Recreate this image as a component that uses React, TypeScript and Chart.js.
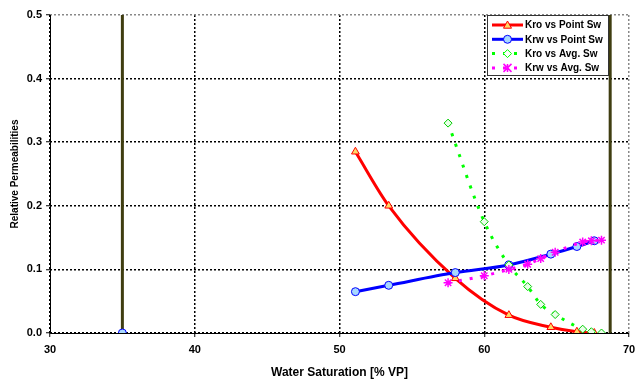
import React, { useEffect, useRef } from "react";
import Chart from "chart.js/auto";

// Kro vs Point Sw
const kroPointSw = [51.1, 53.4, 58.0, 61.7, 64.6, 66.4, 67.6];
const kroPointVal = [0.285, 0.2, 0.086, 0.028, 0.009, 0.002, 0.0];
// Krw vs Point Sw
const krwPointSw = [51.1, 53.4, 58.0, 61.7, 64.6, 66.4, 67.6];
const krwPointVal = [0.065, 0.075, 0.095, 0.107, 0.124, 0.136, 0.145];
// Averaged Sw
const avgSw = [57.5, 60.0, 61.7, 63.0, 63.9, 64.9, 66.8, 67.4, 68.1];
const kroAvgVal = [0.33, 0.175, 0.107, 0.073, 0.045, 0.029, 0.006, 0.002, 0.0];
const krwAvgVal = [0.079, 0.09, 0.1, 0.108, 0.117, 0.127, 0.143, 0.145, 0.146];
// Sw limits (vertical lines) and isolated marker
const swLimits = [35, 68.7];
const limitRange = [0, 0.5];
const markerSw = [35];
const markerVal = [0];

const legendLabels = ["Kro vs Point Sw", "Krw vs Point Sw", "Kro vs Avg. Sw", "Krw vs Avg. Sw"];
const xTicks = [30, 40, 50, 60, 70];

const pts = (xs: number[], ys: number[]) => xs.map((x, i) => ({ x, y: ys[i] }));

const FONT = "'Liberation Sans', Arial, sans-serif";

function drawMarker(ctx: CanvasRenderingContext2D, kind: string, x: number, y: number, r: number, stroke: string, fill: string) {
  ctx.save();
  ctx.lineWidth = 1;
  ctx.strokeStyle = stroke;
  ctx.fillStyle = fill;
  ctx.setLineDash([]);
  ctx.beginPath();
  if (kind === "triangle") {
    ctx.moveTo(x, y - r);
    ctx.lineTo(x + r, y + r * 0.8);
    ctx.lineTo(x - r, y + r * 0.8);
    ctx.closePath();
    ctx.fill();
    ctx.stroke();
  } else if (kind === "circle") {
    ctx.arc(x, y, r, 0, Math.PI * 2);
    ctx.fill();
    ctx.stroke();
  } else if (kind === "rectRot") {
    ctx.moveTo(x, y - r);
    ctx.lineTo(x + r, y);
    ctx.lineTo(x, y + r);
    ctx.lineTo(x - r, y);
    ctx.closePath();
    ctx.fill();
    ctx.stroke();
  } else {
    ctx.lineWidth = 1.5;
    ctx.moveTo(x - r, y - r);
    ctx.lineTo(x + r, y + r);
    ctx.moveTo(x + r, y - r);
    ctx.lineTo(x - r, y + r);
    ctx.moveTo(x, y - r);
    ctx.lineTo(x, y + r);
    ctx.stroke();
  }
  ctx.restore();
}

const axesPlugin = {
  id: "solidAxes",
  beforeDatasetsDraw(chart: any) {
    const ctx = chart.ctx as CanvasRenderingContext2D;
    const a = chart.chartArea;
    ctx.save();
    ctx.strokeStyle = "#000";
    ctx.lineWidth = 1;
    ctx.setLineDash([]);
    ctx.beginPath();
    ctx.moveTo(Math.round(a.left) + 0.5, a.top);
    ctx.lineTo(Math.round(a.left) + 0.5, Math.round(a.bottom) + 0.5);
    ctx.lineTo(a.right, Math.round(a.bottom) + 0.5);
    ctx.stroke();
    ctx.restore();
  },
};

const legendPlugin = {
  id: "customLegend",
  afterDraw(chart: any) {
    const ctx = chart.ctx as CanvasRenderingContext2D;
    const bx = 487, by = 15, bw = 121, bh = 60;
    ctx.save();
    ctx.fillStyle = "#ffffff";
    ctx.fillRect(bx, by, bw, bh);
    ctx.strokeStyle = "#333333";
    ctx.lineWidth = 1;
    ctx.strokeRect(bx + 0.5, by + 0.5, bw, bh);
    const styles = [
      { color: "#ff0000", dash: [] as number[], marker: "triangle", fill: "#ffd966" },
      { color: "#0000ff", dash: [] as number[], marker: "circle", fill: "#a8d8ff" },
      { color: "#00ff00", dash: [3, 8] as number[], marker: "rectRot", fill: "#ffffff" },
      { color: "#ff00ff", dash: [3, 8] as number[], marker: "star", fill: "#ff00ff" },
    ];
    legendLabels.forEach((lbl, i) => {
      const y = 25 + i * 14.3;
      const s = styles[i];
      ctx.save();
      ctx.strokeStyle = s.color;
      ctx.lineWidth = 3;
      ctx.setLineDash(s.dash);
      ctx.beginPath();
      ctx.moveTo(492, y);
      ctx.lineTo(523, y);
      ctx.stroke();
      ctx.restore();
      drawMarker(ctx, s.marker, 507.5, y, 4, s.color, s.fill);
      ctx.fillStyle = "#000";
      ctx.font = `bold 10px ${FONT}`;
      ctx.textBaseline = "middle";
      ctx.textAlign = "left";
      ctx.fillText(lbl, 525, y + 0.5);
    });
    ctx.restore();
  },
};

export default function App() {
  const ref = useRef<HTMLCanvasElement | null>(null);
  useEffect(() => {
    if (!ref.current) return;
    const chart = new Chart(ref.current, {
      type: "scatter",
      data: {
        datasets: [
          {
            label: "limit1",
            data: pts([swLimits[0], swLimits[0]], limitRange),
            showLine: true,
            borderColor: "#3f3d10",
            borderWidth: 3,
            pointRadius: 0,
            order: 9,
          },
          {
            label: "limit2",
            data: pts([swLimits[1], swLimits[1]], limitRange),
            showLine: true,
            borderColor: "#3f3d10",
            borderWidth: 3,
            pointRadius: 0,
            order: 9,
          },
          {
            label: legendLabels[0],
            data: pts(kroPointSw, kroPointVal),
            showLine: true,
            borderColor: "#ff0000",
            borderWidth: 3,
            tension: 0.4,
            cubicInterpolationMode: "monotone",
            pointStyle: "triangle",
            pointRadius: 4.5,
            pointBorderWidth: 1,
            pointBorderColor: "#ff0000",
            pointBackgroundColor: "#ffd966",
            order: 4,
          },
          {
            label: legendLabels[1],
            data: pts(krwPointSw, krwPointVal),
            showLine: true,
            borderColor: "#0000ff",
            borderWidth: 3,
            tension: 0.4,
            cubicInterpolationMode: "monotone",
            pointStyle: "circle",
            pointRadius: 4,
            pointBorderWidth: 1,
            pointBorderColor: "#0000ff",
            pointBackgroundColor: "#a8d8ff",
            order: 3,
          },
          {
            label: "marker",
            data: pts(markerSw, markerVal),
            showLine: false,
            pointStyle: "circle",
            pointRadius: 4,
            pointBorderWidth: 1,
            pointBorderColor: "#0000ff",
            pointBackgroundColor: "#a8d8ff",
            order: 3,
          },
          {
            label: legendLabels[2],
            data: pts(avgSw, kroAvgVal),
            showLine: true,
            borderColor: "#00ff00",
            borderWidth: 3,
            borderDash: [3, 8],
            tension: 0.4,
            cubicInterpolationMode: "monotone",
            pointStyle: "rectRot",
            pointRadius: 4,
            pointBorderWidth: 1,
            pointBorderColor: "#00cc00",
            pointBackgroundColor: "#e8ffe8",
            order: 2,
          },
          {
            label: legendLabels[3],
            data: pts(avgSw, krwAvgVal),
            showLine: true,
            borderColor: "#ff00ff",
            borderWidth: 3,
            borderDash: [3, 8],
            tension: 0.4,
            cubicInterpolationMode: "monotone",
            pointStyle: "star",
            pointRadius: 4.5,
            pointBorderWidth: 1.5,
            pointBorderColor: "#ff00ff",
            pointBackgroundColor: "#ff00ff",
            order: 1,
          },
        ],
      },
      options: {
        animation: false,
        responsive: false,
        maintainAspectRatio: false,
        layout: { padding: { left: 0, top: 15, right: 7, bottom: 0 } },
        plugins: { legend: { display: false }, tooltip: { enabled: false } },
        scales: {
          x: {
            type: "linear",
            min: 30,
            max: 70,
            afterBuildTicks: (s: any) => {
              s.ticks = xTicks.map((v) => ({ value: v }));
            },
            afterFit: (s: any) => {
              s.height = 50;
              s.paddingRight = 0;
              s.paddingLeft = 0;
            },
            ticks: {
              color: "#000",
              font: { family: FONT, size: 11, weight: "bold" },
              padding: 6,
              maxRotation: 0,
            },
            grid: {
              color: (c: any) => (c.tick && c.tick.value === 70 ? "#888888" : "#000000"),
              lineWidth: 1.5,
              tickLength: 4,
              tickColor: "#000",
              tickWidth: 1,
            },
            border: { display: false, color: "#000", width: 1, dash: [2, 2] },
            title: {
              display: true,
              text: "Water Saturation [% VP]",
              color: "#000",
              font: { family: FONT, size: 12, weight: "bold" },
              padding: { top: 6, bottom: 3 },
            },
          },
          y: {
            type: "linear",
            min: 0,
            max: 0.5,
            afterFit: (s: any) => {
              s.width = 50;
              s.paddingTop = 0;
              s.paddingBottom = 0;
            },
            ticks: {
              stepSize: 0.1,
              color: "#000",
              font: { family: FONT, size: 11, weight: "bold" },
              padding: 4,
              callback: (v: any) => Number(v).toFixed(1),
            },
            grid: {
              color: (c: any) => (c.tick && Math.abs(c.tick.value - 0.5) < 1e-6 ? "#888888" : "#000000"),
              lineWidth: 1.5,
              tickLength: 4,
              tickColor: "#000",
              tickWidth: 1,
            },
            border: { display: false, color: "#000", width: 1, dash: [2, 2] },
            title: {
              display: true,
              text: "Relative Permeabilities",
              color: "#000",
              font: { family: FONT, size: 10, weight: "bold" },
              padding: { top: 9, bottom: 0 },
            },
          },
        },
      },
      plugins: [axesPlugin, legendPlugin],
    } as any);
    return () => chart.destroy();
  }, []);
  return (
    <div style={{ position: "absolute", left: 0, top: 0, width: 636, height: 383, background: "#fff" }}>
      <canvas ref={ref} width={636} height={383} style={{ width: 636, height: 383 }} />
    </div>
  );
}
